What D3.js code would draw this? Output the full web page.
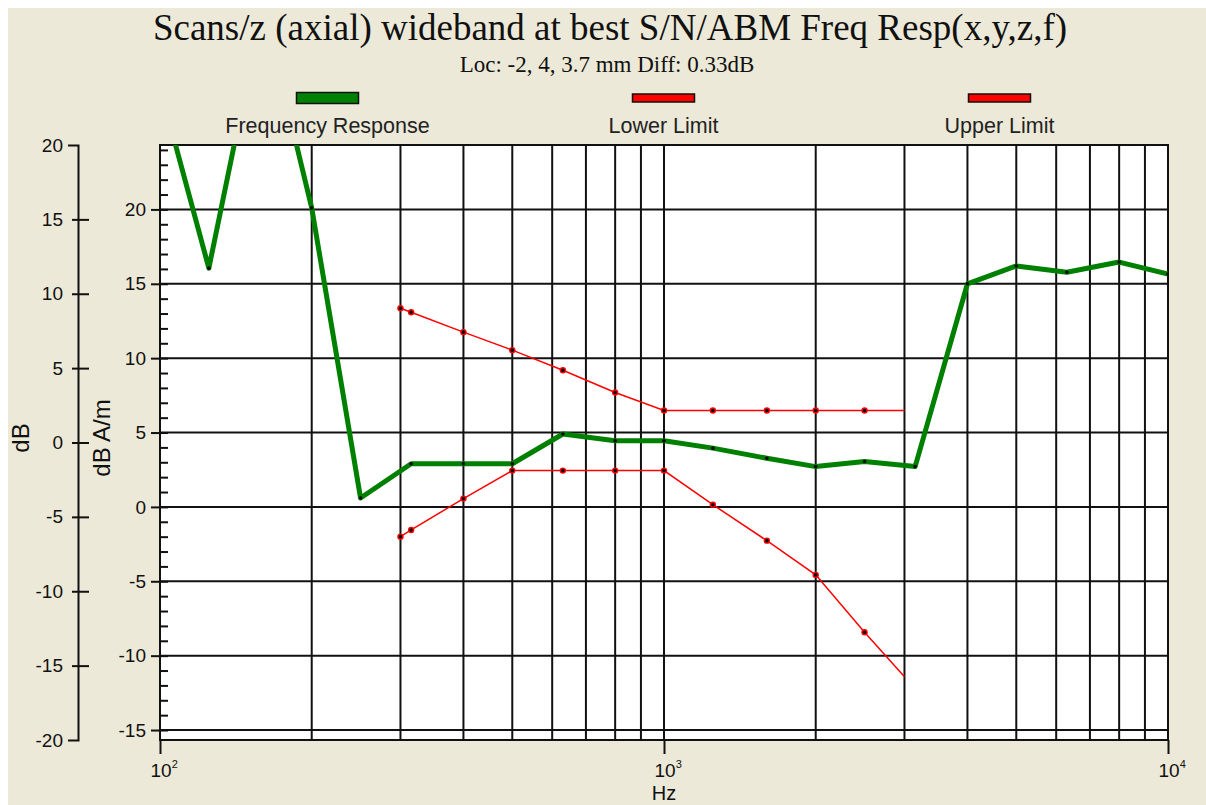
<!DOCTYPE html>
<html>
<head>
<meta charset="utf-8">
<script src="https://cdn.jsdelivr.net/npm/d3@7"></script>
<style>
  body { margin: 0; background: #fff; }
</style>
</head>
<body>
<div id="chart"></div>
<script>
// Frequency response (dB A/m, inner axis units)
const freqHz = [100, 125, 160, 200, 250, 315, 400, 500, 630, 800, 1000, 1250, 1600, 2000, 2500, 3150, 4000, 5000, 6300, 8000, 10000];
const responseDb = [28.2, 16.05, 33.7, 20.1, 0.6, 2.9, 2.9, 2.9, 4.9, 4.45, 4.45, 3.95, 3.27, 2.71, 3.05, 2.71, 15.0, 16.2, 15.78, 16.46, 15.65];

// Limit masks
const limitFreqHz = [300, 315, 400, 500, 630, 800, 1000, 1250, 1600, 2000, 2500, 3000];
const lowerLimitDb = [-2.0, -1.55, 0.56, 2.44, 2.44, 2.44, 2.44, 0.15, -2.27, -4.57, -8.43, -11.41];
const upperLimitDb = [13.36, 13.09, 11.75, 10.54, 9.19, 7.69, 6.48, 6.48, 6.48, 6.48, 6.48, 6.48];

// Axis ticks
const innerTicks = [-15, -10, -5, 0, 5, 10, 15, 20];
const outerTicks = [-20, -15, -10, -5, 0, 5, 10, 15, 20];
const decadeTicks = [100, 1000, 10000];
const seriesNames = ['Frequency Response', 'Lower Limit', 'Upper Limit'];

const titleText = 'Scans/z (axial) wideband at best S/N/ABM Freq Resp(x,y,z,f)';
const subtitleText = 'Loc: -2, 4, 3.7 mm Diff: 0.33dB';

const SANS = '"Liberation Sans", Arial, sans-serif';
const SERIF = '"Liberation Serif", "Times New Roman", serif';
const GREEN = '#008000';
const RED = '#ff0000';

const width = 1206;
const height = 805;
const margins = { top: 145, right: 38, bottom: 65, left: 160 };

const svg = d3.select('#chart')
    .append('svg')
    .attr('width', width)
    .attr('height', height);

// Window background (white strip top/left, beige panel)
svg.append('rect').attr('width', width).attr('height', height).attr('fill', '#fff');
svg.append('rect')
    .attr('x', 8).attr('y', 8)
    .attr('width', width - 8).attr('height', height - 8)
    .attr('fill', '#ece9d8');

const x = d3.scaleLog()
    .domain([100, 10000])
    .range([margins.left, width - margins.right]);

// inner axis (dB A/m) and outer axis (dB) share the plot height
const y = d3.scaleLinear()
    .domain([-15.67, 24.33])
    .range([height - margins.bottom, margins.top]);

const yOuter = d3.scaleLinear()
    .domain([-20, 20])
    .range([height - margins.bottom, margins.top]);

const plotW = width - margins.left - margins.right;
const plotH = height - margins.top - margins.bottom;

// Plot background
svg.append('rect')
    .attr('x', margins.left).attr('y', margins.top)
    .attr('width', plotW).attr('height', plotH)
    .attr('fill', '#fff');

svg.append('clipPath').attr('id', 'plot-clip')
    .append('rect')
    .attr('x', margins.left).attr('y', margins.top)
    .attr('width', plotW).attr('height', plotH);

// Grid
const grid = svg.append('g').attr('stroke', '#111').attr('stroke-width', 2);

grid.selectAll('.vgrid')
    .data(x.ticks().filter(d => d > 100 && d < 10000))
    .join('line')
    .attr('class', 'vgrid')
    .attr('x1', d => x(d)).attr('x2', d => x(d))
    .attr('y1', margins.top).attr('y2', height - margins.bottom);

grid.selectAll('.hgrid')
    .data(innerTicks)
    .join('line')
    .attr('class', 'hgrid')
    .attr('x1', margins.left).attr('x2', width - margins.right)
    .attr('y1', d => y(d)).attr('y2', d => y(d));

svg.append('rect')
    .attr('x', margins.left).attr('y', margins.top)
    .attr('width', plotW).attr('height', plotH)
    .attr('fill', 'none')
    .attr('stroke', '#111')
    .attr('stroke-width', 2);

// Outer axis (dB) - plain hyphen minus like the original
const outerAxis = svg.append('g')
    .attr('transform', 'translate(78,0)')
    .call(d3.axisLeft(yOuter).tickValues(outerTicks).tickSize(6).tickSizeOuter(10).tickPadding(9)
        .tickFormat(d => String(d)));

outerAxis.selectAll('.tick line').attr('x1', 11);
outerAxis.selectAll('.tick').filter(d => d === 20 || d === -20).select('line').remove();

// Inner axis (dB A/m)
const innerAxis = svg.append('g')
    .attr('transform', `translate(${margins.left},0)`)
    .call(d3.axisLeft(y).tickValues(innerTicks).tickSize(9).tickSizeOuter(0).tickPadding(5)
        .tickFormat(d => String(d)));

// minor ticks inside the plot, every 1 dB
svg.append('g')
    .attr('transform', `translate(${margins.left},0)`)
    .call(d3.axisRight(y).tickValues(d3.range(-15, 25)).tickSize(8).tickFormat(''))
    .call(g => g.select('.domain').remove())
    .selectAll('line').attr('stroke-width', 2).attr('stroke', '#111');

// X axis
const sup = { 2: '2', 3: '3', 4: '4' };
const xAxis = svg.append('g')
    .attr('transform', `translate(0,${height - margins.bottom})`)
    .call(d3.axisBottom(x).tickValues(decadeTicks).tickSize(14).tickSizeOuter(0).tickFormat(''));

xAxis.selectAll('.tick text')
    .attr('text-anchor', 'start')
    .attr('x', -10)
    .attr('y', 37)
    .attr('dy', 0)
    .each(function(d) {
        const t = d3.select(this);
        t.append('tspan').text('10');
        t.append('tspan')
            .attr('dy', -9)
            .attr('font-size', 11)
            .text(sup[Math.round(Math.log10(d))]);
    });

// common axis styling
[outerAxis, innerAxis, xAxis].forEach(g => {
    g.attr('font-family', SANS).attr('font-size', 19);
    g.selectAll('path, line').attr('stroke', '#111').attr('stroke-width', 2);
    g.selectAll('text').attr('fill', '#111');
});
innerAxis.select('.domain').remove();
xAxis.select('.domain').remove();

// Axis labels
svg.append('text')
    .attr('transform', 'rotate(-90)')
    .attr('x', -438).attr('y', 29)
    .attr('text-anchor', 'middle')
    .attr('font-family', SANS).attr('font-size', 24).attr('fill', '#111')
    .text('dB');

svg.append('text')
    .attr('transform', 'rotate(-90)')
    .attr('x', -438).attr('y', 110)
    .attr('text-anchor', 'middle')
    .attr('font-family', SANS).attr('font-size', 24).attr('fill', '#111')
    .text('dB A/m');

svg.append('text')
    .attr('x', x(1000)).attr('y', 800)
    .attr('text-anchor', 'middle')
    .attr('font-family', SANS).attr('font-size', 20).attr('fill', '#111')
    .text('Hz');

// Title
svg.append('text')
    .attr('x', 610).attr('y', 40)
    .attr('text-anchor', 'middle')
    .attr('font-family', SERIF).attr('font-size', 37).attr('fill', '#111')
    .text(titleText);

svg.append('text')
    .attr('x', 607).attr('y', 72)
    .attr('text-anchor', 'middle')
    .attr('font-family', SERIF).attr('font-size', 23).attr('fill', '#111')
    .text(subtitleText);

// Series
const line = d3.line().x(d => x(d[0])).y(d => y(d[1]));
const plotArea = svg.append('g').attr('clip-path', 'url(#plot-clip)');

const lower = d3.zip(limitFreqHz, lowerLimitDb);
const upper = d3.zip(limitFreqHz, upperLimitDb);
const response = d3.zip(freqHz, responseDb);

[lower, upper].forEach(data => {
    plotArea.append('path')
        .datum(data)
        .attr('fill', 'none')
        .attr('stroke', RED)
        .attr('stroke-width', 1.5)
        .attr('d', line);

    // last point of a mask has no marker
    const pts = plotArea.append('g').selectAll('g')
        .data(data.slice(0, -1))
        .join('g')
        .attr('transform', d => `translate(${x(d[0])},${y(d[1])})`);
    pts.append('circle').attr('r', 3.2).attr('fill', RED);
    pts.append('circle').attr('r', 1.8).attr('fill', '#000');
});

plotArea.append('path')
    .datum(response)
    .attr('fill', 'none')
    .attr('stroke', GREEN)
    .attr('stroke-width', 5)
    .attr('stroke-linejoin', 'round')
    .attr('d', line);

plotArea.append('g').selectAll('circle')
    .data(response)
    .join('circle')
    .attr('cx', d => x(d[0]))
    .attr('cy', d => y(d[1]))
    .attr('r', 1.8)
    .attr('fill', '#000');

// Legend
const legendItems = [
    { name: seriesNames[0], color: GREEN, cx: 327.5, h: 11 },
    { name: seriesNames[1], color: RED, cx: 663.5, h: 8 },
    { name: seriesNames[2], color: RED, cx: 999.5, h: 8 }
];

const legend = svg.append('g').selectAll('g')
    .data(legendItems)
    .join('g')
    .attr('transform', d => `translate(${d.cx},0)`);

legend.append('rect')
    .attr('x', -31).attr('y', d => 98 - d.h / 2)
    .attr('width', 62).attr('height', d => d.h)
    .attr('fill', d => d.color)
    .attr('stroke', '#111')
    .attr('stroke-width', 1.5);

legend.append('text')
    .attr('y', 133)
    .attr('text-anchor', 'middle')
    .attr('font-family', SANS).attr('font-size', 21.5).attr('fill', '#222')
    .text(d => d.name);
</script>
</body>
</html>
